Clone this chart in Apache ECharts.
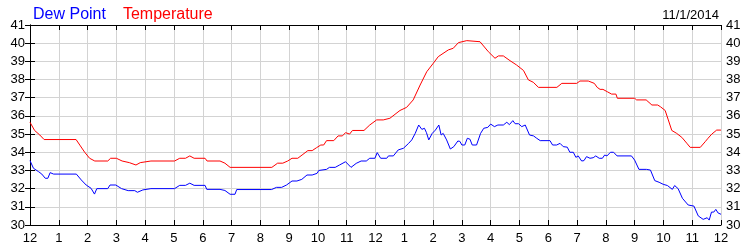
<!DOCTYPE html>
<html>
<head>
<meta charset="utf-8">
<script src="https://cdn.jsdelivr.net/npm/echarts@6/dist/echarts.min.js"></script>
<style>html,body{margin:0;padding:0;background:#fff}#c{width:750px;height:250px}</style>
</head>
<body>
<div id="c"></div>
<script>
var hourLabels = ['12','1','2','3','4','5','6','7','8','9','10','11','12','1','2','3','4','5','6','7','8','9','10','11','12'];
var dateLabel = '11/1/2014';
var temperature = [[0,35.65],[0.16,35.2],[0.34,34.95],[0.49,34.7],[1.6,34.7],[1.75,34.35],[1.9,34.0],[2.07,33.67],[2.25,33.52],[2.7,33.52],[2.8,33.67],[3.0,33.67],[3.2,33.52],[3.45,33.43],[3.68,33.3],[3.83,33.43],[4.2,33.52],[5.02,33.52],[5.2,33.67],[5.4,33.67],[5.55,33.8],[5.7,33.67],[6.08,33.67],[6.15,33.52],[6.6,33.52],[6.77,33.4],[6.95,33.17],[8.4,33.17],[8.6,33.4],[8.78,33.4],[8.95,33.52],[9.1,33.67],[9.3,33.67],[9.45,33.85],[9.65,34.09],[9.8,34.09],[9.95,34.25],[10.1,34.4],[10.2,34.4],[10.3,34.64],[10.55,34.64],[10.7,34.9],[10.85,34.9],[10.96,35.08],[11.1,35.0],[11.2,35.2],[11.6,35.2],[11.8,35.5],[12.04,35.78],[12.27,35.78],[12.5,35.87],[12.85,36.3],[13.08,36.47],[13.31,36.88],[13.55,37.7],[13.78,38.43],[14.01,38.9],[14.18,39.26],[14.53,39.63],[14.7,39.72],[14.88,40.03],[15.17,40.14],[15.63,40.08],[15.92,39.53],[16.15,39.17],[16.27,39.3],[16.44,39.3],[16.67,39.04],[16.9,38.8],[17.14,38.5],[17.31,37.98],[17.48,37.85],[17.66,37.57],[18.3,37.57],[18.47,37.79],[18.99,37.79],[19.1,37.92],[19.39,37.92],[19.6,37.79],[19.7,37.57],[19.8,37.46],[19.9,37.46],[20.05,37.33],[20.2,37.2],[20.35,37.2],[20.4,36.97],[21.0,36.97],[21.07,36.88],[21.4,36.88],[21.6,36.6],[21.8,36.6],[21.9,36.5],[22.06,36.3],[22.17,35.78],[22.29,35.2],[22.46,35.04],[22.64,34.82],[22.81,34.5],[22.93,34.27],[23.28,34.27],[23.45,34.58],[23.55,34.77],[23.68,35.0],[23.85,35.22],[24,35.22]];
var dewPoint = [[0,33.54],[0.12,33.12],[0.3,32.93],[0.41,32.8],[0.53,32.57],[0.62,32.57],[0.7,32.88],[0.82,32.8],[1.61,32.8],[1.78,32.48],[1.95,32.2],[2.12,32.02],[2.24,31.7],[2.32,32.0],[2.7,32.0],[2.78,32.2],[2.98,32.2],[3.18,32.0],[3.41,31.89],[3.64,31.89],[3.73,31.8],[3.92,31.93],[4.2,32.0],[5.02,32.0],[5.2,32.18],[5.4,32.18],[5.55,32.3],[5.7,32.18],[6.08,32.18],[6.14,31.96],[6.6,31.96],[6.77,31.9],[6.95,31.69],[7.12,31.69],[7.18,31.95],[8.39,31.95],[8.56,32.07],[8.74,32.07],[8.91,32.2],[9.1,32.42],[9.27,32.42],[9.44,32.51],[9.62,32.75],[9.8,32.75],[9.97,32.84],[10.03,33.0],[10.3,33.06],[10.4,33.17],[10.6,33.17],[10.75,33.3],[10.96,33.48],[11.15,33.17],[11.33,33.39],[11.5,33.52],[11.68,33.52],[11.8,33.67],[11.98,33.67],[12.06,33.98],[12.18,33.67],[12.39,33.67],[12.45,33.8],[12.62,33.8],[12.79,34.13],[12.97,34.22],[13.15,34.49],[13.26,34.68],[13.38,35.04],[13.5,35.5],[13.61,35.26],[13.7,35.32],[13.77,35.08],[13.85,34.68],[13.97,35.04],[14.08,35.22],[14.2,35.5],[14.28,34.95],[14.35,35.04],[14.47,34.68],[14.6,34.18],[14.72,34.31],[14.86,34.62],[14.93,34.6],[15.0,34.4],[15.1,34.4],[15.19,34.77],[15.28,34.72],[15.36,34.4],[15.51,34.4],[15.65,35.04],[15.76,35.32],[15.9,35.37],[16.0,35.55],[16.13,35.41],[16.25,35.5],[16.44,35.5],[16.56,35.65],[16.65,35.52],[16.77,35.74],[16.85,35.57],[16.97,35.57],[17.08,35.41],[17.2,35.5],[17.35,34.95],[17.49,34.9],[17.6,34.77],[17.72,34.64],[18.06,34.64],[18.15,34.4],[18.29,34.4],[18.41,34.49],[18.52,34.31],[18.66,34.28],[18.75,34.0],[18.87,34.0],[18.96,33.72],[19.04,33.8],[19.16,33.52],[19.24,33.54],[19.33,33.76],[19.45,33.67],[19.56,33.7],[19.65,33.8],[19.77,33.67],[19.88,33.67],[19.96,33.85],[20.04,33.8],[20.16,34.0],[20.27,34.0],[20.39,33.8],[20.89,33.8],[21.0,33.57],[21.15,33.06],[21.41,33.06],[21.55,33.02],[21.7,32.44],[21.85,32.35],[21.99,32.24],[22.14,32.17],[22.31,31.96],[22.39,32.17],[22.51,32.0],[22.66,31.47],[22.86,31.1],[23.06,31.04],[23.21,30.5],[23.38,30.31],[23.52,30.4],[23.59,30.27],[23.67,30.71],[23.75,30.71],[23.82,30.86],[23.9,30.66],[24,30.59]];

var font = 'Arial, "Liberation Sans", sans-serif';
var chart = echarts.init(document.getElementById('c'), null, {renderer: 'canvas'});
var lineStyleAxis = {show: true, lineStyle: {color: '#000', width: 1}};
var tickIn = {show: true, inside: true, length: 5, lineStyle: {color: '#000'}};
var labelStyle = {color: '#000', fontSize: 13, fontFamily: font};
chart.setOption({
  animation: false,
  backgroundColor: '#fff',
  grid: {left: 30, right: 29, top: 25, bottom: 25, containLabel: false},
  title: {text: dateLabel, right: 26, top: 4, textStyle: {color: '#000', fontSize: 13, fontWeight: 'normal', fontFamily: font}},
  legend: {
    left: 23, top: 2, icon: 'none', itemWidth: 0, itemGap: 12,
    textStyle: {fontSize: 16, fontFamily: font},
    data: [
      {name: 'Dew Point', textStyle: {color: '#0000ff'}},
      {name: 'Temperature', textStyle: {color: '#ff0000'}}
    ],
    selectedMode: false
  },
  xAxis: [
    {type: 'value', min: 0, max: 24, interval: 1, position: 'bottom',
     axisLine: lineStyleAxis, axisTick: tickIn,
     axisLabel: Object.assign({margin: 7, showMinLabel: true, showMaxLabel: true, formatter: function (v) { return hourLabels[Math.round(v)]; }}, labelStyle),
     splitLine: {show: true, lineStyle: {color: '#d3d3d3', width: 1}}},
    {type: 'value', min: 0, max: 24, interval: 1, position: 'top',
     axisLine: lineStyleAxis, axisTick: tickIn, axisLabel: {show: false}, splitLine: {show: false}}
  ],
  yAxis: [
    {type: 'value', min: 30, max: 41, interval: 1, position: 'left',
     axisLine: lineStyleAxis, axisTick: tickIn,
     axisLabel: Object.assign({margin: 5}, labelStyle),
     splitLine: {show: true, lineStyle: {color: '#d3d3d3', width: 1}}},
    {type: 'value', min: 30, max: 41, interval: 1, position: 'right',
     axisLine: lineStyleAxis, axisTick: tickIn,
     axisLabel: Object.assign({margin: 5}, labelStyle),
     splitLine: {show: false}}
  ],
  series: [
    {name: 'Dew Point', type: 'line', data: dewPoint, showSymbol: false, symbol: 'none',
     lineStyle: {color: '#0000ff', width: 1}, itemStyle: {color: '#0000ff'}, xAxisIndex: 0, yAxisIndex: 0},
    {name: 'Temperature', type: 'line', data: temperature, showSymbol: false, symbol: 'none',
     lineStyle: {color: '#ff0000', width: 1}, itemStyle: {color: '#ff0000'}, xAxisIndex: 0, yAxisIndex: 0}
  ]
});
</script>
</body>
</html>
